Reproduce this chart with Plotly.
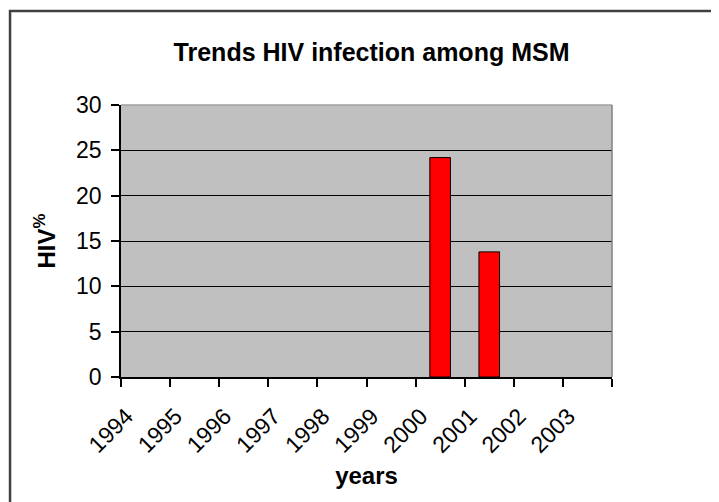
import plotly.graph_objects as go

years = [1994, 1995, 1996, 1997, 1998, 1999, 2000, 2001, 2002, 2003]
year_labels = ["1994", "1995", "1996", "1997", "1998", "1999", "2000", "2001", "2002", "2003"]
hiv_pct = [None, None, None, None, None, None, 24.2, 13.8, None, None]

title_text = "Trends HIV infection among MSM"
x_title = "years"
y_title = "HIV<sup>%</sup>"

FONT = "Liberation Sans, Arial, sans-serif"

# label anchor offset (Excel-like placement) and category boundaries for tick marks
label_pos = [y - 0.39 for y in years]
boundaries = [y - 0.5 for y in years] + [years[-1] + 0.5]

fig = go.Figure()
fig.add_trace(go.Bar(
    x=years, y=hiv_pct, width=0.42,
    marker=dict(color="#FF0000", line=dict(color="#000000", width=1)),
    showlegend=False, hoverinfo="x+y",
))

fig.update_layout(
    width=711, height=494,
    margin=dict(l=113, r=107, t=97, b=125, autoexpand=False),
    paper_bgcolor="#FFFFFF", plot_bgcolor="#C0C0C0",
    font=dict(family=FONT, color="#000000", size=23),
    title=dict(text="<b>" + title_text + "</b>", x=0.5113, xanchor="center",
               y=0.911, yanchor="middle", font=dict(size=25, family=FONT)),
    xaxis=dict(
        type="linear", range=[years[0] - 0.5, years[-1] + 0.5],
        tickmode="array", tickvals=label_pos, ticktext=year_labels,
        ticks="", ticklabelstandoff=15,
        minor=dict(tickmode="array", tickvals=boundaries, ticks="outside",
                   ticklen=8, tickwidth=1.5, tickcolor="#000000", showgrid=False),
        showline=True, linecolor="#000000", linewidth=1.5, tickangle=-45,
        showgrid=False, zeroline=False, tickfont=dict(size=23),
        title=dict(text="<b>" + x_title + "</b>", font=dict(size=24), standoff=10),
    ),
    yaxis=dict(
        range=[0, 30], dtick=5, tick0=0, ticks="outside", ticklen=8, tickwidth=1.5,
        tickcolor="#000000", showline=True, linecolor="#000000", linewidth=1.5,
        showgrid=True, gridcolor="#000000", gridwidth=1.2, zeroline=False,
        tickfont=dict(size=23), ticklabelstandoff=5,
        title=dict(text="<b>" + y_title + "</b>", font=dict(size=24), standoff=14),
    ),
    shapes=[
        dict(type="line", xref="paper", yref="paper", x0=0, x1=1, y0=1, y1=1,
             line=dict(color="#A0A0A0", width=1.5), layer="above"),
        dict(type="line", xref="paper", yref="paper", x0=1, x1=1, y0=0, y1=1,
             line=dict(color="#808080", width=1.5), layer="above"),
        dict(type="rect", xref="paper", yref="paper", x0=-0.226, x1=1.5,
             y0=-0.8, y1=1.3456, line=dict(color="#404040", width=2.5),
             fillcolor="rgba(0,0,0,0)", layer="below"),
    ],
)

fig.write_html("out.html")
